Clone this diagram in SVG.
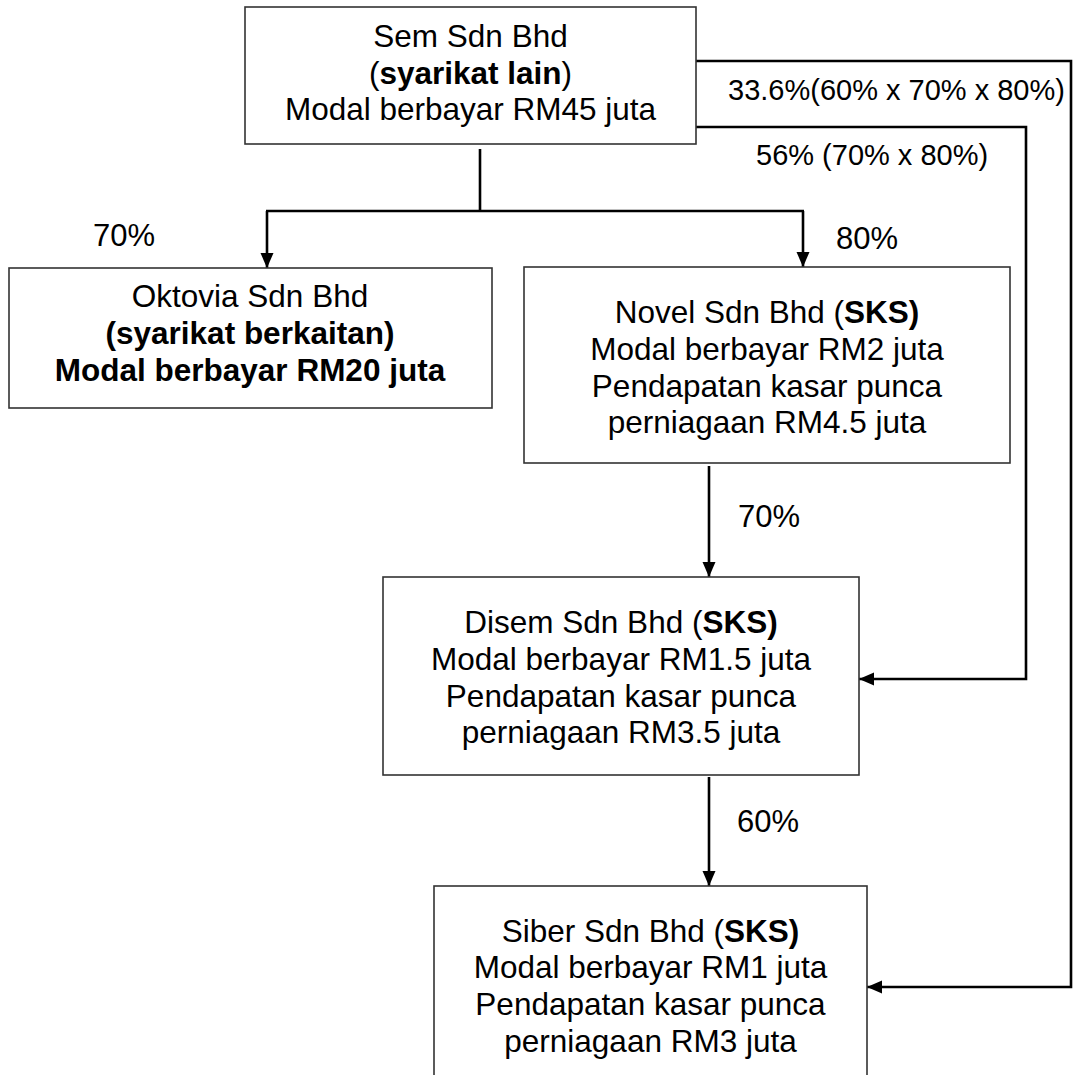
<svg xmlns="http://www.w3.org/2000/svg" width="1073" height="1075" viewBox="0 0 1073 1075">
<defs>
<style>
.box{fill:#fff;stroke:#333;stroke-width:1.6}
.t{font-family:"Liberation Sans",Arial,sans-serif;font-size:31.5px;fill:#000;text-anchor:middle}
.lb{font-family:"Liberation Sans",Arial,sans-serif;font-size:31px;fill:#000}
.lbs{font-family:"Liberation Sans",Arial,sans-serif;font-size:29px;fill:#000}
.b{font-weight:bold}
.c{fill:none;stroke:#000;stroke-width:2.6}
</style>
<marker id="ah" markerUnits="userSpaceOnUse" markerWidth="16" markerHeight="14" refX="15" refY="6.5" orient="auto">
<path d="M0,0 L15,6.5 L0,13 z" fill="#000"/>
</marker>
</defs>
<rect width="1073" height="1075" fill="#fff"/>
<g id="connectors">
<line class="c" x1="480" y1="149" x2="480" y2="211"/>
<line class="c" x1="266" y1="211" x2="804" y2="211"/>
<line class="c" x1="267" y1="211" x2="267" y2="268" marker-end="url(#ah)"/>
<line class="c" x1="803" y1="211" x2="803" y2="267" marker-end="url(#ah)"/>
<line class="c" x1="709" y1="466" x2="709" y2="577" marker-end="url(#ah)"/>
<line class="c" x1="709" y1="777" x2="709" y2="886" marker-end="url(#ah)"/>
<polyline class="c" points="696,61 1071,61 1071,987 867,987" marker-end="url(#ah)"/>
<polyline class="c" points="696,127 1026,127 1026,679 859,679" marker-end="url(#ah)"/>
<text class="lb" x="93" y="246">70%</text>
<text class="lb" x="836" y="249">80%</text>
<text class="lb" x="738" y="527">70%</text>
<text class="lb" x="737" y="832">60%</text>
<text class="lbs" x="728" y="100">33.6%(60% x 70% x 80%)</text>
<text class="lbs" x="756" y="165">56% (70% x 80%)</text>
</g>
<g id="sem">
<rect class="box" x="245" y="7" width="451" height="137"/>
<text class="t" x="470.5" y="47">Sem Sdn Bhd</text>
<text class="t" x="470.5" y="84">(<tspan class="b">syarikat lain</tspan>)</text>
<text class="t" x="470.5" y="120">Modal berbayar RM45 juta</text>
</g>
<g id="oktovia">
<rect class="box" x="9" y="268" width="483" height="140"/>
<text class="t" x="250" y="307">Oktovia Sdn Bhd</text>
<text class="t b" x="250" y="344">(syarikat berkaitan)</text>
<text class="t b" x="250" y="381">Modal berbayar RM20 juta</text>
</g>
<g id="novel">
<rect class="box" x="524" y="267" width="486" height="196"/>
<text class="t" x="767" y="323">Novel Sdn Bhd (<tspan class="b">SKS)</tspan></text>
<text class="t" x="767" y="360">Modal berbayar RM2 juta</text>
<text class="t" x="767" y="397">Pendapatan kasar punca</text>
<text class="t" x="767" y="433">perniagaan RM4.5 juta</text>
</g>
<g id="disem">
<rect class="box" x="383" y="577" width="476" height="198"/>
<text class="t" x="621" y="633">Disem Sdn Bhd (<tspan class="b">SKS)</tspan></text>
<text class="t" x="621" y="670">Modal berbayar RM1.5 juta</text>
<text class="t" x="621" y="707">Pendapatan kasar punca</text>
<text class="t" x="621" y="743">perniagaan RM3.5 juta</text>
</g>
<g id="siber">
<rect class="box" x="434" y="886" width="433" height="200"/>
<text class="t" x="650.5" y="942">Siber Sdn Bhd (<tspan class="b">SKS)</tspan></text>
<text class="t" x="650.5" y="978">Modal berbayar RM1 juta</text>
<text class="t" x="650.5" y="1015">Pendapatan kasar punca</text>
<text class="t" x="650.5" y="1052">perniagaan RM3 juta</text>
</g>
</svg>
